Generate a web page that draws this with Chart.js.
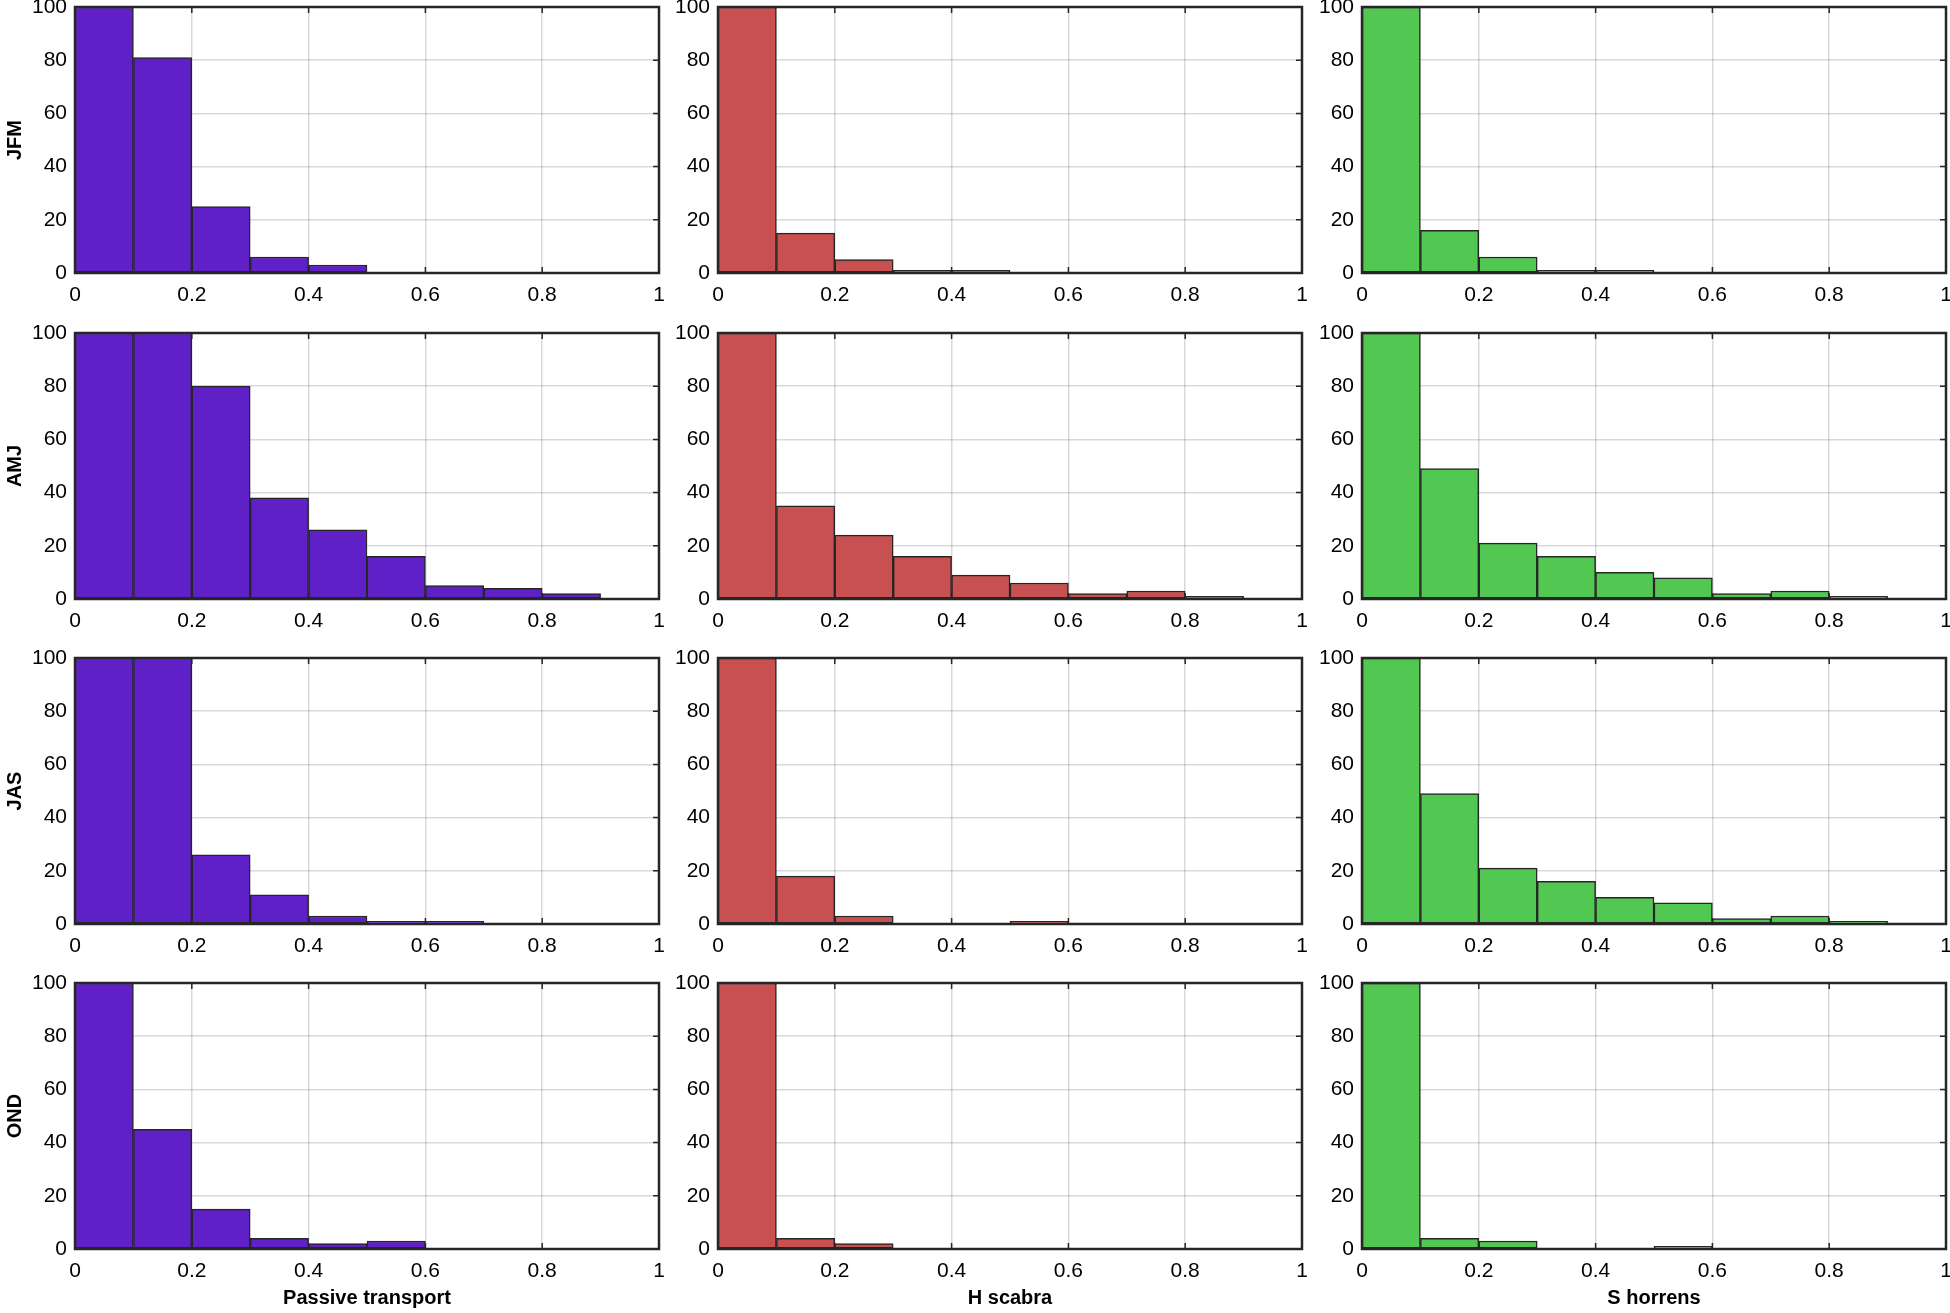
<!DOCTYPE html>
<html><head><meta charset="utf-8">
<script src="https://cdn.jsdelivr.net/npm/chart.js@4.4.0/dist/chart.umd.min.js"></script>
<style>
html,body{margin:0;padding:0;background:#fff;width:1950px;height:1313px;overflow:hidden;position:relative}
canvas{position:absolute}
</style></head><body>
<script>
// ---- data ----
const seasons = ['JFM','AMJ','JAS','OND'];
const groups = ['Passive transport','H scabra','S horrens'];
const binEdges = [0,0.1,0.2,0.3,0.4,0.5,0.6,0.7,0.8,0.9,1];
const xTicks = [0,0.2,0.4,0.6,0.8,1];
const xTickLabels = ['0','0.2','0.4','0.6','0.8','1'];
const yTicks = [0,20,40,60,80,100];
const yTickLabels = ['0','20','40','60','80','100'];

const passiveJFM = [100,81,25,6,3,0,0,0,0,0];
const passiveAMJ = [100,100,80,38,26,16,5,4,2,0];
const passiveJAS = [100,100,26,11,3,1,1,0,0,0];
const passiveOND = [100,45,15,4,2,3,0,0,0,0];
const scabraJFM  = [100,15,5,1,1,0,0,0,0,0];
const scabraAMJ  = [100,35,24,16,9,6,2,3,1,0];
const scabraJAS  = [100,18,3,0,0,1,0,0,0,0];
const scabraOND  = [100,4,2,0,0,0,0,0,0,0];
const horrensJFM = [100,16,6,1,1,0,0,0,0,0];
const horrensAMJ = [100,49,21,16,10,8,2,3,1,0];
const horrensJAS = [100,49,21,16,10,8,2,3,1,0];
const horrensOND = [100,4,3,0,0,1,0,0,0,0];

const panelValues = [
  [passiveJFM, scabraJFM, horrensJFM],
  [passiveAMJ, scabraAMJ, horrensAMJ],
  [passiveJAS, scabraJAS, horrensJAS],
  [passiveOND, scabraOND, horrensOND]
];
const groupColors = ['#6020C8','#C85050','#52C852'];

// ---- layout ----
const FONT = '"Liberation Sans", Arial, Helvetica, sans-serif';
const plotLeft = [75, 718, 1362];
const plotTop = [7, 333, 658, 983];
const PW = 584, PH = 266;
const AXIS_COLOR = '#262626';

const boxPlugin = {
  id: 'matlabBox',
  beforeDatasetsDraw(chart) {
    const {ctx, chartArea: a, scales} = chart;
    ctx.save();
    ctx.strokeStyle = AXIS_COLOR;
    ctx.lineWidth = 1.5;
    const L = 6;
    ctx.beginPath();
    xTicks.forEach(v => {
      const p = scales.x.getPixelForValue(v);
      ctx.moveTo(p, a.bottom); ctx.lineTo(p, a.bottom - L);
      ctx.moveTo(p, a.top); ctx.lineTo(p, a.top + L);
    });
    yTicks.forEach(v => {
      const p = scales.y.getPixelForValue(v);
      ctx.moveTo(a.left, p); ctx.lineTo(a.left + L, p);
      ctx.moveTo(a.right, p); ctx.lineTo(a.right - L, p);
    });
    ctx.stroke();
    ctx.restore();
  },
  afterDatasetsDraw(chart) {
    const {ctx, chartArea: a} = chart;
    ctx.save();
    ctx.strokeStyle = AXIS_COLOR;
    ctx.lineWidth = 2.5;
    ctx.strokeRect(a.left, a.top, a.right - a.left, a.bottom - a.top);
    ctx.restore();
  }
};

function makePanel(r, c) {
  const Wy = c === 0 ? 75 : 60;
  const padT = 26, padR = 24;
  const Hx = r === 3 ? 62 : 45;
  const w = Wy + PW + padR, h = padT + PH + Hx;
  const cv = document.createElement('canvas');
  cv.width = w; cv.height = h;
  cv.style.left = (plotLeft[c] - Wy) + 'px';
  cv.style.top = (plotTop[r] - padT) + 'px';
  cv.style.width = w + 'px'; cv.style.height = h + 'px';
  document.body.appendChild(cv);
  const vals = panelValues[r][c];
  const data = vals.map((v, i) => ({x: (binEdges[i] + binEdges[i + 1]) / 2, y: v}));
  new Chart(cv, {
    type: 'bar',
    data: {datasets: [{
      data,
      backgroundColor: groupColors[c],
      borderColor: AXIS_COLOR,
      borderWidth: 1.5,
      borderSkipped: false,
      barPercentage: 1,
      categoryPercentage: 1
    }]},
    options: {
      responsive: false,
      animation: false,
      layout: {padding: {top: padT, right: padR, left: 0, bottom: 0}},
      plugins: {legend: {display: false}, tooltip: {enabled: false}},
      scales: {
        x: {
          type: 'linear', min: 0, max: 1, offset: false,
          afterBuildTicks: s => { s.ticks = xTicks.map(v => ({value: v})); },
          afterFit: s => { s.height = Hx; },
          grid: {color: 'rgba(0,0,0,0.15)', lineWidth: 1.5, drawTicks: false, offset: false},
          border: {display: false},
          ticks: {padding: 10, color: '#000', maxRotation: 0, autoSkip: false,
                  font: {family: FONT, size: 21},
                  callback: (v, i) => xTickLabels[i]},
          title: {display: r === 3, text: groups[c], color: '#000',
                  font: {family: FONT, size: 20, weight: 'bold'},
                  padding: {top: 0, bottom: 1}}
        },
        y: {
          min: 0, max: 100,
          afterBuildTicks: s => { s.ticks = yTicks.map(v => ({value: v})); },
          afterFit: s => { s.width = Wy; },
          grid: {color: 'rgba(0,0,0,0.15)', lineWidth: 1.5, drawTicks: false},
          border: {display: false},
          ticks: {padding: 8, color: '#000', font: {family: FONT, size: 21},
                  callback: (v, i) => yTickLabels[i]},
          title: {display: c === 0, text: seasons[r], color: '#000',
                  font: {family: FONT, size: 20, weight: 'bold'},
                  padding: {top: 3, bottom: 0}}
        }
      }
    },
    plugins: [boxPlugin]
  });
}

for (let r = 0; r < 4; r++) for (let c = 0; c < 3; c++) makePanel(r, c);
</script>
</body></html>
